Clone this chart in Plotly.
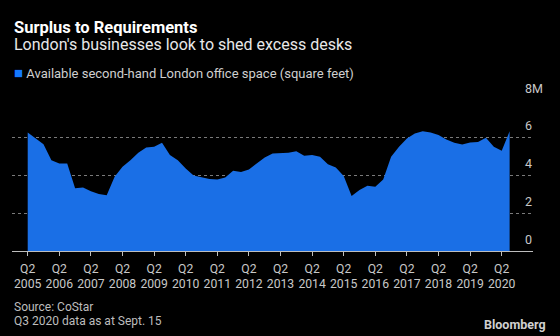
import plotly.graph_objects as go

# ---- data ----
start_year = 2005
start_quarter = 2
space_msqft = [
    6.28, 5.96, 5.66,                 # 2005 Q2-Q4
    4.81, 4.64, 4.64, 3.32,           # 2006
    3.37, 3.17, 3.02, 2.95,           # 2007
    3.93, 4.46, 4.81, 5.20,           # 2008
    5.49, 5.52, 5.73, 5.08,           # 2009
    4.81, 4.37, 4.00, 3.90,           # 2010
    3.81, 3.79, 3.90, 4.25,           # 2011
    4.18, 4.32, 4.64, 4.96,           # 2012
    5.17, 5.17, 5.20, 5.29,           # 2013
    5.04, 5.08, 4.99, 4.60,           # 2014
    4.43, 3.97, 2.91, 3.23,           # 2015
    3.46, 3.40, 3.79, 4.99,           # 2016
    5.52, 5.96, 6.22, 6.35,           # 2017
    6.28, 6.14, 5.91, 5.73,           # 2018
    5.64, 5.75, 5.77, 6.00,           # 2019
    5.52, 5.31, 6.35,                 # 2020 Q1-Q3
]
tick_years = list(range(2005, 2021))
y_ticks = [0, 2, 4, 6, 8]
y_tick_text = ["0", "2", "4", "6", "8M"]

title = "Surplus to Requirements"
subtitle = "London's businesses look to shed excess desks"
series_name = "Available second-hand London office space (square feet)"
source1 = "Source: CoStar"
source2 = "Q3 2020 data as at Sept. 15"

# quarter positions as decimal years (Q1 = year + 0)
x_vals = []
y, q = start_year, start_quarter
for _ in space_msqft:
    x_vals.append(y + (q - 1) / 4)
    q += 1
    if q > 4:
        q, y = 1, y + 1

tick_x = [yr + 0.25 for yr in tick_years]
tick_txt = [f"<span style='font-size:12.2px'>Q2</span><br>"
            f"<span style='font-size:12.2px'>{yr}</span>" for yr in tick_years]

FONT = "Roboto"
BLUE = "#1a6fe6"

fig = go.Figure()
fig.add_trace(go.Scatter(
    x=x_vals, y=space_msqft, mode="lines", fill="tozeroy",
    line=dict(width=0, color=BLUE), fillcolor=BLUE,
    name=series_name, showlegend=False, hoverinfo="x+y",
))

fig.update_layout(
    width=560, height=336,
    paper_bgcolor="#000000", plot_bgcolor="#000000",
    margin=dict(l=12, r=27, t=100, b=85),
    font=dict(family=FONT, color="#c8c8c8", size=12),
    xaxis=dict(
        range=[2004.753, 2021.24], tickvals=tick_x, ticktext=tick_txt,
        showgrid=False, zeroline=False, showline=True, linecolor="#bdbdbd",
        linewidth=1, ticks="outside", ticklen=4, tickcolor="#bdbdbd",
        ticklabelstandoff=4,
        tickfont=dict(size=11, color="#c8c8c8", family=FONT),
    ),
    yaxis=dict(
        range=[0, 8], tickvals=y_ticks, ticktext=y_tick_text, side="right",
        showgrid=True, gridcolor="#7a7a7a", griddash="dot", gridwidth=1,
        zeroline=False, ticks="", ticklabelposition="outside top",
        ticklabelstandoff=-9, ticklabelshift=-3,
        tickfont=dict(size=12.5, color="#c8c8c8", family=FONT),
    ),
    showlegend=False,
)

ann = []
ann.append(dict(text=f"<b>{title}</b>", x=0, xref="paper", y=1, yref="paper",
                xanchor="left", yanchor="middle", xshift=0, yshift=73,
                showarrow=False, font=dict(size=16.5, color="#ffffff", family=FONT)))
ann.append(dict(text=subtitle, x=0, xref="paper", y=1, yref="paper",
                xanchor="left", yanchor="middle", xshift=0, yshift=55.8,
                showarrow=False, font=dict(size=16, color="#e8e8e8", family=FONT)))
ann.append(dict(text=f"<span style='color:#1479ff;font-size:15px'>■</span> {series_name}",
                x=0, xref="paper", y=1, yref="paper",
                xanchor="left", yanchor="middle", xshift=0, yshift=27.2,
                showarrow=False, font=dict(size=13, color="#cfcfcf", family=FONT)))
ann.append(dict(text=source1, x=0, xref="paper", y=0, yref="paper",
                xanchor="left", yanchor="middle", xshift=0, yshift=-56.3,
                showarrow=False, font=dict(size=12, color="#bdbdbd", family=FONT)))
ann.append(dict(text=source2, x=0, xref="paper", y=0, yref="paper",
                xanchor="left", yanchor="middle", xshift=0, yshift=-69.5,
                showarrow=False, font=dict(size=12, color="#bdbdbd", family=FONT)))
ann.append(dict(text="<b>Bloomberg</b>", x=1, xref="paper", y=0, yref="paper",
                xanchor="right", yanchor="middle", xshift=15, yshift=-73.5,
                showarrow=False, font=dict(size=12.5, color="#d0d0d0", family=FONT)))
fig.update_layout(annotations=ann)

fig.write_html("out.html")
